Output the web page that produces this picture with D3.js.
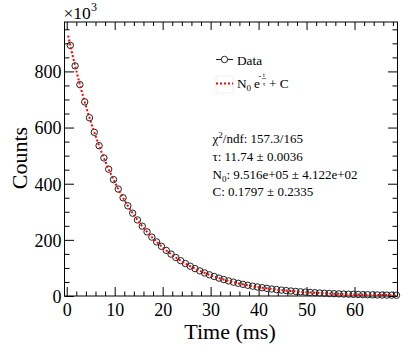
<!DOCTYPE html>
<html><head><meta charset="utf-8">
<script src="https://cdn.jsdelivr.net/npm/d3@7"></script>
<style>
html,body{margin:0;padding:0;background:#fff;}
text{font-family:"Liberation Serif","Times New Roman",serif;fill:#000;}
</style></head>
<body><svg id="c" width="415" height="345"></svg>
<script>
// ---- data (counts in units of 10^3) ----
const timeMs = [0.75,1.75,2.75,3.75,4.75,5.75,6.75,7.75,8.75,9.75,10.75,11.75,12.75,13.75,14.75,15.75,16.75,17.75,18.75,19.75,
  20.75,21.75,22.75,23.75,24.75,25.75,26.75,27.75,28.75,29.75,30.75,31.75,32.75,33.75,34.75,35.75,36.75,37.75,38.75,39.75,
  40.75,41.75,42.75,43.75,44.75,45.75,46.75,47.75,48.75,49.75,50.75,51.75,52.75,53.75,54.75,55.75,56.75,57.75,58.75,59.75,
  60.75,61.75,62.75,63.75,64.75,65.75,66.75,67.75,68.75];
const counts = [892.7,819.8,752.9,691.4,634.9,583.1,535.5,491.8,451.6,414.7,380.9,349.8,321.2,295.0,270.9,248.8,228.5,209.8,192.7,177.0,
  162.5,149.2,137.1,125.9,115.6,106.2,97.5,89.5,82.2,75.5,69.4,63.7,58.5,53.7,49.3,45.3,41.6,38.2,35.1,32.2,
  29.6,27.2,25.0,22.9,21.1,19.3,17.8,16.3,15.0,13.8,12.6,11.6,10.7,9.8,9.0,8.2,7.6,6.9,6.4,5.9,
  5.4,4.9,4.5,4.2,3.8,3.5,3.2,2.9,2.7];
// fit parameters (from stats box)
const fitN0 = 951.6, fitTau = 11.74, fitC = 0.1797e-3;
const fitStart = 0.3, fitEnd = 68.9;
const xMajorTicks = [0,10,20,30,40,50,60];
const yMajorTicks = [0,200,400,600,800];
const xLabel = "Time (ms)", yLabel = "Counts";

const svg = d3.select("#c");
const L=64.5, R=397.5, T=22, B=296;
const x = d3.scaleLinear().domain([-0.46, 68.96]).range([L, R]);
const y = d3.scaleLinear().domain([0, 976]).range([B, T]);

const xMinor = d3.range(0, 69, 2).filter(v=>v%10!==0);
const yMinor = d3.range(0, 976, 50).filter(v=>v%200!==0);

function axisGroup(axis, tx, ty){
  const g = svg.append("g").attr("transform",`translate(${tx},${ty})`).call(axis);
  g.select(".domain").remove();
  g.selectAll("line").attr("stroke","#000").attr("stroke-width",1);
  return g;
}
// bottom
const gb = axisGroup(d3.axisBottom(x).tickValues(xMajorTicks).tickSize(-9).tickPadding(14).tickFormat(d3.format("d")), 0, B);
gb.selectAll("text").attr("font-size",18).attr("font-family","Liberation Serif").attr("dy","0.71em").attr("y",7);
axisGroup(d3.axisBottom(x).tickValues(xMinor).tickSize(-4.5).tickFormat(""), 0, B);
// top
axisGroup(d3.axisTop(x).tickValues(xMajorTicks).tickSize(-8).tickFormat(""), 0, T);
axisGroup(d3.axisTop(x).tickValues(xMinor).tickSize(-4).tickFormat(""), 0, T);
// left
const gl = axisGroup(d3.axisLeft(y).tickValues(yMajorTicks).tickSize(-9.5).tickPadding(3).tickFormat(d3.format("d")), L, 0);
gl.selectAll("text").attr("font-size",18).attr("font-family","Liberation Serif").attr("x",-3).attr("dy","0.35em");
axisGroup(d3.axisLeft(y).tickValues(yMinor).tickSize(-5).tickFormat(""), L, 0);
// right
axisGroup(d3.axisRight(y).tickValues(yMajorTicks).tickSize(-9.5).tickFormat(""), R, 0);
axisGroup(d3.axisRight(y).tickValues(yMinor).tickSize(-5).tickFormat(""), R, 0);

// frame
svg.append("rect").attr("x",L).attr("y",T).attr("width",R-L).attr("height",B-T)
  .attr("fill","none").attr("stroke","#000").attr("stroke-width",1);

// clip
svg.append("clipPath").attr("id","clip").append("rect").attr("x",L).attr("y",T).attr("width",R-L).attr("height",B-T);

// data markers
const pts = timeMs.map((t,i)=>({t, v:counts[i]}));
svg.append("g").selectAll("circle").data(pts).join("circle")
  .attr("cx",d=>x(d.t)).attr("cy",d=>y(d.v)).attr("r",3.2)
  .attr("fill","none").attr("stroke","#222").attr("stroke-width",1);

// fit curve
const fitT = d3.range(fitStart, fitEnd, 0.2);
const fitLine = d3.line().x(d=>x(d)).y(d=>y(fitN0*Math.exp(-d/fitTau)+fitC));
svg.append("path").datum(fitT).attr("d",fitLine).attr("clip-path","url(#clip)")
  .attr("fill","none").attr("stroke","#ff0000").attr("stroke-width",2).attr("stroke-dasharray","2,2");

// exponent label
const ex = svg.append("text").attr("x",63.5).attr("y",19).attr("font-size",17.5);
ex.append("tspan").text("\u00d710");
ex.append("tspan").attr("font-size",12).attr("dy",-8.5).text("3");

// axis titles
svg.append("text").attr("x",230).attr("y",338.5).attr("text-anchor","middle").attr("font-size",22).text(xLabel);
svg.append("text").attr("transform","translate(26.5,158) rotate(-90)").attr("text-anchor","middle").attr("font-size",22).text(yLabel);

// legend
const lg = svg.append("g");
lg.append("line").attr("x1",216).attr("x2",233).attr("y1",59.5).attr("y2",59.5).attr("stroke","#222").attr("stroke-width",1);
lg.append("circle").attr("cx",224.5).attr("cy",59.5).attr("r",3.2).attr("fill","#fff").attr("stroke","#222");
lg.append("text").attr("x",237).attr("y",64.5).attr("font-size",13.3).text("Data");
lg.append("rect").attr("x",216).attr("y",76).attr("width",17).attr("height",17).attr("fill","none").attr("stroke","#f0f0f0");
lg.append("line").attr("x1",216).attr("x2",233).attr("y1",83.5).attr("y2",83.5).attr("stroke","#ff0000").attr("stroke-width",2).attr("stroke-dasharray","2,2");
const ft = lg.append("text").attr("x",237).attr("y",87.5).attr("font-size",13.3);
ft.append("tspan").text("N");
ft.append("tspan").attr("font-size",9).attr("dy",3).text("0");
ft.append("tspan").attr("dy",-3).attr("dx",3).text("e");
lg.append("text").attr("x",258.5).attr("y",79).attr("font-size",8).text("-");
lg.append("text").attr("x",264).attr("y",77).attr("font-size",6.5).attr("text-anchor","middle").text("t");
lg.append("line").attr("x1",262).attr("x2",266).attr("y1",78.6).attr("y2",78.6).attr("stroke","#000").attr("stroke-width",0.5);
lg.append("text").attr("x",264).attr("y",85.5).attr("font-size",6.5).attr("text-anchor","middle").text("\u03c4");
lg.append("text").attr("x",269).attr("y",87.5).attr("font-size",13.3).text("+ C");

// stats
const st = svg.append("g").attr("font-size",13);
const s1 = st.append("text").attr("x",212.5).attr("y",143).attr("font-size",13);
s1.append("tspan").text("\u03c7");
s1.append("tspan").attr("font-size",9).attr("dy",-5).text("2");
s1.append("tspan").attr("dy",5).text("/ndf: 157.3/165");
st.append("text").attr("x",212.5).attr("y",161).attr("font-size",13).text("\u03c4: 11.74 \u00b1 0.0036");
const s3 = st.append("text").attr("x",212.5).attr("y",178.5).attr("font-size",13);
s3.append("tspan").text("N");
s3.append("tspan").attr("font-size",9).attr("dy",3).text("0");
s3.append("tspan").attr("dy",-3).text(": 9.516e+05 \u00b1 4.122e+02");
st.append("text").attr("x",212.5).attr("y",196).attr("font-size",13).text("C: 0.1797 \u00b1 0.2335");
</script></body></html>
